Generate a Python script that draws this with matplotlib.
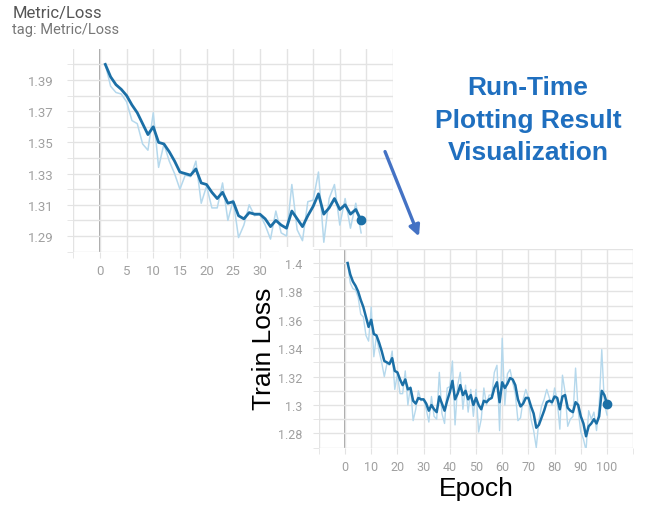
import numpy as np
import matplotlib.pyplot as plt
from matplotlib.patches import Rectangle, FancyArrowPatch

# training loss per epoch
epochs = list(range(1, 101))
loss_smooth = [
    1.400, 1.392, 1.387, 1.384, 1.380, 1.374, 1.369, 1.362, 1.355, 1.360,
    1.350, 1.349, 1.344, 1.338, 1.331, 1.330, 1.329, 1.333, 1.324, 1.323,
    1.318, 1.314, 1.318, 1.311, 1.312, 1.303, 1.301, 1.305, 1.304, 1.304,
    1.301, 1.296, 1.300, 1.297, 1.295, 1.306, 1.301, 1.296, 1.303, 1.309,
    1.317, 1.304, 1.308, 1.314, 1.307, 1.310, 1.304, 1.307, 1.300, 1.305,
    1.300, 1.297, 1.303, 1.302, 1.304, 1.305, 1.312, 1.316, 1.302, 1.316,
    1.312, 1.315, 1.319, 1.318, 1.314, 1.304, 1.299, 1.301, 1.305, 1.305,
    1.299, 1.294, 1.284, 1.286, 1.291, 1.296, 1.302, 1.303, 1.302, 1.306,
    1.305, 1.297, 1.306, 1.307, 1.298, 1.296, 1.295, 1.302, 1.300, 1.292,
    1.287, 1.278, 1.285, 1.287, 1.290, 1.287, 1.292, 1.310, 1.307, 1.301,
]
loss_raw = [
    1.400, 1.386, 1.382, 1.381, 1.376, 1.364, 1.362, 1.349, 1.345, 1.369,
    1.334, 1.349, 1.338, 1.330, 1.320, 1.329, 1.328, 1.338, 1.311, 1.322,
    1.308, 1.308, 1.324, 1.300, 1.313, 1.289, 1.297, 1.310, 1.303, 1.304,
    1.297, 1.288, 1.306, 1.292, 1.290, 1.323, 1.294, 1.287, 1.312, 1.313,
    1.331, 1.286, 1.314, 1.323, 1.297, 1.314, 1.295, 1.311, 1.292, 1.311,
    1.281, 1.290, 1.312, 1.300, 1.307, 1.307, 1.323, 1.328, 1.282, 1.347,
    1.300, 1.322, 1.325, 1.316, 1.308, 1.289, 1.291, 1.304, 1.311, 1.305,
    1.290, 1.282, 1.270, 1.289, 1.299, 1.304, 1.311, 1.305, 1.300, 1.312,
    1.303, 1.283, 1.321, 1.309, 1.285, 1.290, 1.292, 1.326, 1.296, 1.281,
    1.276, 1.268, 1.296, 1.290, 1.295, 1.282, 1.300, 1.339, 1.301, 1.293,
]
snapshot_n = 49  # epochs logged when the first screenshot was taken

top_ylabels = ["1.29", "1.31", "1.33", "1.35", "1.37", "1.39"]
bot_ylabels = ["1.28", "1.3", "1.32", "1.34", "1.36", "1.38", "1.4"]

DARK = "#1b6fa6"
LIGHT = "#b5d8ec"
GRID = "#e3e3e3"
TICK = "#a0a0a0"

plt.rcParams["font.family"] = ["Roboto", "DejaVu Sans"]

fig = plt.figure(figsize=(6.46, 5.06), dpi=100)


def style_axes(ax, fs):
    for s in ax.spines.values():
        s.set_visible(False)
    ax.grid(True, which="both", color=GRID, linewidth=1.0, zorder=0)
    ax.tick_params(which="both", length=4, color=GRID, labelcolor=TICK,
                   labelsize=fs, pad=5)
    ax.axvline(0, color="#9a9a9a", linewidth=1.3, zorder=1)


# --- top chart: snapshot during training
ax1 = fig.add_axes([0.1135, 0.5008, 0.495, 0.4008])
ax1.set_zorder(0)
style_axes(ax1, 9.5)
x_top = epochs[:snapshot_n]
ax1.plot(x_top, loss_raw[:snapshot_n], color=LIGHT, linewidth=1.1, zorder=2)
ax1.plot(x_top, loss_smooth[:snapshot_n], color=DARK, linewidth=2.0, zorder=3)
ax1.plot(x_top[-1], loss_smooth[snapshot_n - 1], "o", color=DARK,
         markersize=6, zorder=4)
ax1.set_xlim(-5, 55)
ax1.set_ylim(1.28, 1.41)
# labels past 30 sit under the second screenshot, so only gridlines there
ax1.set_xticks(range(0, 35, 5))
ax1.set_xticks([-5, 35, 40, 45, 50, 55], minor=True)
ax1.set_yticks([1.29, 1.31, 1.33, 1.35, 1.37, 1.39])
ax1.set_yticklabels(top_ylabels)
ax1.set_yticks([1.28, 1.30, 1.32, 1.34, 1.36, 1.38, 1.40], minor=True)
ax1.tick_params(axis="y", pad=10)

fig.text(0.019, 0.974, "Metric/Loss", fontsize=12, color="#555555",
         va="center", ha="left")
fig.text(0.019, 0.940, "tag: Metric/Loss", fontsize=10.5, color="#777777",
         va="center", ha="left")

# white panel that the second screenshot sits on
panel = Rectangle((279 / 646, 0), 1 - 279 / 646, 1 - 248 / 506,
                  transform=fig.transFigure, facecolor="white",
                  edgecolor="none", zorder=0.5)
fig.add_artist(panel)

# --- bottom chart: full run
ax2 = fig.add_axes([0.4935, 0.1134, 0.4867, 0.3929])
ax2.set_zorder(1)
ax2.patch.set_alpha(0)
style_axes(ax2, 9)
ax2.plot(epochs, loss_raw, color=LIGHT, linewidth=1.0, zorder=2)
ax2.plot(epochs, loss_smooth, color=DARK, linewidth=1.8, zorder=3)
ax2.plot(epochs[-1], loss_smooth[-1], "o", color=DARK, markersize=6, zorder=4)
ax2.set_xlim(-10, 110)
ax2.set_ylim(1.27, 1.41)
ax2.set_xticks(range(0, 101, 10))
ax2.set_xticks([-10, 110], minor=True)
ax2.set_yticks([1.28, 1.30, 1.32, 1.34, 1.36, 1.38, 1.40])
ax2.set_yticklabels(bot_ylabels)
ax2.set_yticks([1.27, 1.29, 1.31, 1.33, 1.35, 1.37, 1.39, 1.41], minor=True)
ax2.tick_params(axis="y", pad=8)
ax2.set_xlabel("Epoch", fontsize=19, family=["Liberation Sans", "DejaVu Sans"],
               labelpad=2)
ax2.set_ylabel("Train Loss", fontsize=19,
               family=["Liberation Sans", "DejaVu Sans"], labelpad=1)

# annotation
arrow = FancyArrowPatch((384 / 646, 1 - 150 / 506), (420 / 646, 1 - 240 / 506),
                        transform=fig.transFigure, arrowstyle="-|>",
                        mutation_scale=16, color="#4472c4", linewidth=2.4)
fig.add_artist(arrow)
for txt, ypx in [("Run-Time", 88), ("Plotting Result", 121), ("Visualization", 153)]:
    fig.text(528 / 646, 1 - ypx / 506, txt, fontsize=19, fontweight="bold",
             color="#1f6fbf", ha="center", va="center",
             family=["Liberation Sans", "DejaVu Sans"])

fig.savefig("out.png", dpi=100)
